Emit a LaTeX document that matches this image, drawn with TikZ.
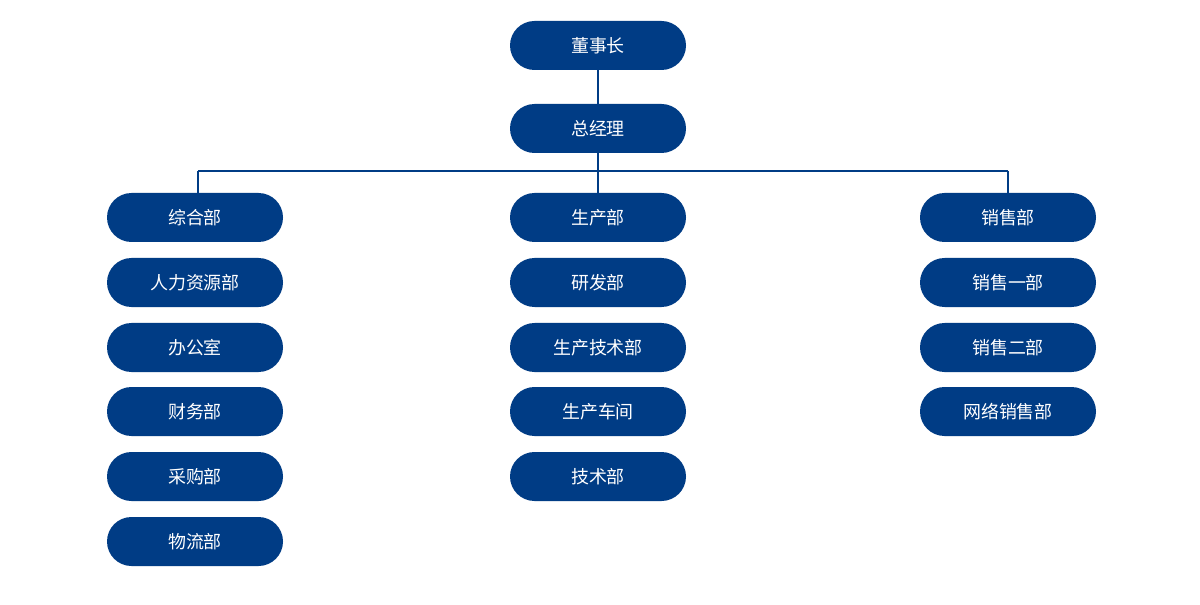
\documentclass[tikz,border=0pt]{standalone}
\usepackage{fontspec}
\newfontfamily\cjk{Noto Sans CJK SC}
\definecolor{navy}{RGB}{0,60,133}
\begin{document}
\begin{tikzpicture}[x=1bp,y=-1bp,
  box/.style={fill=navy,draw=none,rounded corners=24.5bp,minimum width=176bp,minimum height=49bp,inner sep=0pt,text=white,font=\cjk\fontsize{18}{20}\selectfont,text depth=0.5bp},
  conn/.style={draw=navy,line width=1.8bp}]
\useasboundingbox (0,0) rectangle (1200,605);
\fill[white] (0,0) rectangle (1200,605);
\node[box] (dsz) at (598,45.5) {董事长};
\node[box] (zjl) at (598,128.5) {总经理};
% left column
\node[box] (l1) at (195,217.5) {综合部};
\node[box] (l2) at (195,282.5) {人力资源部};
\node[box] (l3) at (195,347.5) {办公室};
\node[box] (l4) at (195,411.5) {财务部};
\node[box] (l5) at (195,476.5) {采购部};
\node[box] (l6) at (195,541.5) {物流部};
% middle column
\node[box] (m1) at (598,217.5) {生产部};
\node[box] (m2) at (598,282.5) {研发部};
\node[box] (m3) at (598,347.5) {生产技术部};
\node[box] (m4) at (598,411.5) {生产车间};
\node[box] (m5) at (598,476.5) {技术部};
% right column
\node[box] (r1) at (1008,217.5) {销售部};
\node[box] (r2) at (1008,282.5) {销售一部};
\node[box] (r3) at (1008,347.5) {销售二部};
\node[box] (r4) at (1008,411.5) {网络销售部};
% connectors
\coordinate (hl) at (198,171);
\coordinate (hr) at (1008,171);
\path[conn] (dsz.south) -- (zjl.north);
\path[conn] (zjl.south) -- (m1.north);
\path[conn] (hl) -- (hr);
\path[conn] (hl) -- (hl |- l1.north);
\path[conn] (hr) -- (r1.north);
\end{tikzpicture}
\end{document}
